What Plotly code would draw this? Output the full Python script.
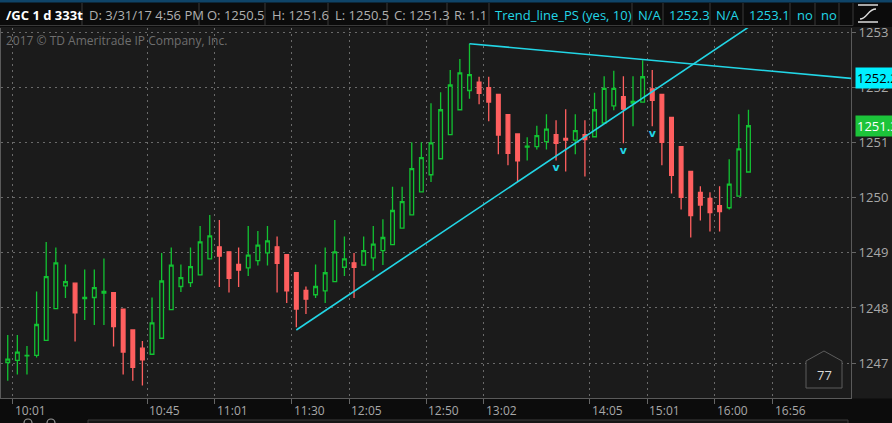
import plotly.graph_objects as go

# ---------------- data ----------------
opens = [1247.01, 1247.05, 1247.13, 1247.14, 1247.41, 1247.99, 1248.40, 1248.45, 1248.17, 1248.19,
         1248.27, 1248.28, 1247.98, 1247.60, 1247.27, 1247.16, 1247.45, 1247.97, 1248.39, 1248.46,
         1248.60, 1248.89, 1249.11, 1249.02, 1248.79, 1248.73, 1248.86, 1249.00, 1249.11, 1248.97,
         1248.64, 1248.32, 1248.24, 1248.31, 1248.48, 1248.74, 1248.82, 1248.78, 1248.91, 1249.04,
         1249.15, 1249.45, 1249.69, 1250.11, 1250.42, 1250.71, 1251.15, 1251.60, 1251.95, 1252.10,
         1252.00, 1251.88, 1251.51, 1251.16, 1250.92, 1250.93, 1251.02, 1251.15, 1251.08, 1251.05,
         1251.15, 1251.11, 1251.36, 1251.67, 1251.84, 1251.72, 1251.74, 1251.98, 1251.88, 1251.46,
         1250.93, 1250.48, 1250.10, 1249.99, 1249.86, 1249.82, 1250.03, 1250.47]
highs = [1247.51, 1247.51, 1247.31, 1248.30, 1249.20, 1249.10, 1248.79, 1248.45, 1248.70, 1248.70,
         1248.90, 1248.28, 1247.98, 1247.60, 1247.40, 1248.19, 1249.00, 1249.10, 1248.79, 1249.10,
         1249.49, 1249.69, 1249.60, 1249.02, 1249.10, 1249.49, 1249.40, 1249.49, 1249.30, 1248.97,
         1248.64, 1248.39, 1248.79, 1249.10, 1249.60, 1249.30, 1249.00, 1249.30, 1249.49, 1249.61,
         1250.20, 1250.20, 1251.01, 1251.01, 1251.72, 1251.92, 1252.32, 1252.52, 1252.80, 1252.20,
         1252.20, 1251.88, 1251.51, 1251.16, 1251.10, 1251.31, 1251.52, 1251.41, 1251.61, 1251.52,
         1251.41, 1251.91, 1252.21, 1252.31, 1252.21, 1252.21, 1252.50, 1252.32, 1251.88, 1251.46,
         1250.93, 1250.48, 1250.21, 1250.10, 1250.21, 1250.70, 1251.52, 1251.60]
lows = [1246.68, 1246.79, 1246.79, 1247.10, 1247.41, 1247.99, 1248.18, 1247.39, 1247.78, 1247.69,
        1247.69, 1247.30, 1246.79, 1246.68, 1246.59, 1247.16, 1247.45, 1247.97, 1248.29, 1248.38,
        1248.60, 1248.89, 1248.38, 1248.28, 1248.38, 1248.58, 1248.77, 1248.77, 1248.28, 1248.09,
        1247.65, 1247.89, 1248.18, 1248.09, 1248.48, 1248.58, 1248.18, 1248.78, 1248.68, 1248.78,
        1249.15, 1249.45, 1249.69, 1250.11, 1250.29, 1250.71, 1251.15, 1251.60, 1251.80, 1251.70,
        1251.39, 1250.79, 1250.59, 1250.29, 1250.68, 1250.88, 1250.88, 1250.68, 1250.48, 1250.79,
        1250.39, 1251.11, 1251.36, 1251.59, 1250.99, 1251.30, 1251.74, 1251.30, 1250.59, 1250.08,
        1249.79, 1249.28, 1249.59, 1249.39, 1249.39, 1249.79, 1250.03, 1250.47]
closes = [1247.07, 1247.20, 1247.14, 1247.70, 1248.57, 1248.82, 1248.48, 1247.91, 1248.19, 1248.37,
          1248.30, 1247.66, 1247.20, 1246.92, 1247.06, 1247.73, 1248.49, 1248.78, 1248.55, 1248.75,
          1249.20, 1249.31, 1248.94, 1248.54, 1248.69, 1248.96, 1249.14, 1249.22, 1248.81, 1248.31,
          1247.98, 1248.16, 1248.39, 1248.64, 1249.02, 1248.89, 1248.74, 1249.04, 1249.16, 1249.28,
          1249.77, 1249.93, 1250.53, 1250.73, 1251.00, 1251.60, 1252.05, 1252.27, 1252.24, 1251.90,
          1251.74, 1251.14, 1250.81, 1250.67, 1250.94, 1251.13, 1251.25, 1250.99, 1251.05, 1251.22,
          1251.06, 1251.60, 1251.99, 1251.99, 1251.61, 1251.75, 1252.20, 1251.77, 1251.01, 1250.41,
          1250.01, 1249.68, 1249.87, 1249.73, 1249.75, 1250.25, 1250.89, 1251.31]

time_labels = ["10:01", "10:45", "11:01", "11:30", "12:05", "12:50", "13:02", "14:05", "15:01", "16:00", "16:56"]
time_bars = [1, 15, 22, 30, 36, 44, 50, 61, 67, 74, 80]

price_ticks = [1247, 1248, 1249, 1250, 1251, 1252, 1253]

trend1_bars = [30, 77]
trend1_vals = [1247.60, 1253.10]
trend2_bars = [48, 77]
trend2_vals = [1252.80, 1252.34]

signal_bars = [57, 64, 67]
signal_vals = [1250.53, 1250.85, 1251.15]

header_texts = ["/GC 1 d 333t", "D: 3/31/17 4:56 PM", "O: 1250.5", "H: 1251.6", "L: 1250.5",
                "C: 1251.3", "R: 1.1", "Trend_line_PS (yes, 10)", "N/A", "1252.3", "N/A", "1253.1", "no", "no"]

# ---------------- geometry helpers ----------------
W, H = 892, 423
PL, PR, PT, PB = 1, 851, 28, 398
X_MIN, X_MAX = -0.70, 87.66
Y_MIN, Y_MAX = 1246.365, 1253.085


def px(x):
    return (x - PL) / (PR - PL)


def py(y):
    return (PB - y) / (PB - PT)


BG = "#1b1b1b"
GREEN = "#12c232"
RED = "#ff5f5f"
CYAN = "#22d6e6"
GRID = "#6a6a6a"

bars = list(range(len(opens)))

fig = go.Figure()
fig.add_trace(go.Candlestick(
    x=bars, open=opens, high=highs, low=lows, close=closes,
    increasing=dict(line=dict(color=GREEN, width=1.3), fillcolor=BG),
    decreasing=dict(line=dict(color=RED, width=1.3), fillcolor=RED),
    whiskerwidth=0, hoverinfo="skip", showlegend=False,
))


def extend(bx, vals, x_end):
    slope = (vals[1] - vals[0]) / (bx[1] - bx[0])
    return [bx[0], x_end], [vals[0], vals[0] + slope * (x_end - bx[0])]


t1x, t1y = extend(trend1_bars, trend1_vals, 80)
t2x, t2y = extend(trend2_bars, trend2_vals, X_MAX)
for tx, ty in ((t1x, t1y), (t2x, t2y)):
    fig.add_trace(go.Scatter(x=tx, y=ty, mode="lines", line=dict(color=CYAN, width=1.6),
                             hoverinfo="skip", showlegend=False))

fig.add_trace(go.Scatter(x=signal_bars, y=signal_vals, mode="text", text=["v"] * len(signal_bars),
                         textfont=dict(color=CYAN, size=11, family="DejaVu Sans", weight="bold"),
                         hoverinfo="skip", showlegend=False))

shapes = []
annotations = []

# header
shapes.append(dict(type="rect", xref="paper", yref="paper", x0=px(0), x1=px(W), y0=py(27), y1=py(0),
                   fillcolor="#0b0b0b", line=dict(width=0), layer="below"))
shapes.append(dict(type="rect", xref="paper", yref="paper", x0=px(0), x1=px(W), y0=py(2.5), y1=py(0),
                   fillcolor="#0f4468", line=dict(width=0), layer="below"))
for bx in [82, 199, 265, 328, 387, 447, 489, 632, 663, 710, 743, 790, 815, 839, 853]:
    shapes.append(dict(type="line", xref="paper", yref="paper", x0=px(bx), x1=px(bx), y0=py(25.5), y1=py(3),
                       line=dict(color="#3a3a3a", width=1)))
shapes.append(dict(type="line", xref="paper", yref="paper", x0=px(0), x1=px(853), y0=py(25.5), y1=py(25.5),
                   line=dict(color="#3a3a3a", width=1)))
# icon top right
shapes.append(dict(type="line", xref="paper", yref="paper", x0=px(858), x1=px(878), y0=py(5), y1=py(5),
                   line=dict(color="#dddddd", width=1.5)))
shapes.append(dict(type="line", xref="paper", yref="paper", x0=px(858), x1=px(878), y0=py(22), y1=py(22),
                   line=dict(color="#dddddd", width=1.5)))
shapes.append(dict(type="path", xref="paper", yref="paper",
                   path="M %f,%f C %f,%f %f,%f %f,%f" % (px(860), py(19), px(867), py(19), px(868), py(9), px(876), py(9)),
                   line=dict(color="#dddddd", width=1.3)))

hx = [4, 87, 205, 270, 333, 392, 452, 493, 636, 667, 714, 747, 795, 819]
hcolors = ["#ffffff"] + ["#b0b0b0"] * 6 + [CYAN] * 5 + [CYAN, CYAN]
for i, (t, x) in enumerate(zip(header_texts, hx)):
    annotations.append(dict(xref="paper", yref="paper", x=px(x), y=py(14.5), text=("<b>%s</b>" % t) if i == 0 else t,
                            showarrow=False, xanchor="left", yanchor="middle",
                            font=dict(family="Open Sans", size=13, color=hcolors[i])))

# watermark
annotations.append(dict(xref="paper", yref="paper", x=px(4), y=py(41), text="2017 © TD Ameritrade IP Company, Inc.",
                        showarrow=False, xanchor="left", yanchor="middle",
                        font=dict(family="Open Sans", size=12, color="#6e6e6e")))

# bottom area
shapes.append(dict(type="rect", xref="paper", yref="paper", x0=px(0), x1=px(W), y0=py(H), y1=py(PB + 0.5),
                   fillcolor="#0c0c0c", line=dict(width=0), layer="below"))
shapes.append(dict(type="rect", xref="paper", yref="paper", x0=px(88), x1=px(848), y0=py(424), y1=py(420),
                   fillcolor="#161616", line=dict(color="#3a3a3a", width=1), layer="below"))
for cx in [28, 51]:
    shapes.append(dict(type="circle", xref="paper", yref="paper", x0=px(cx - 4), x1=px(cx + 4), y0=py(427), y1=py(419),
                       line=dict(color="#9a9a9a", width=1.2)))

# x tick labels
tick_pos = [b - 0.5 for b in time_bars]
for t, xp in zip(time_labels, tick_pos):
    annotations.append(dict(xref="x", yref="paper", x=xp, y=py(410.5), text=t, showarrow=False,
                            xanchor="left", yanchor="middle", xshift=0,
                            font=dict(family="Open Sans", size=12, color="#a8a8a8")))

# "77" box
shapes.append(dict(type="path", xref="paper", yref="paper",
                   path="M %f,%f L %f,%f L %f,%f L %f,%f L %f,%f Z" % (
                       px(806), py(361), px(824), py(351), px(842), py(361), px(842), py(388), px(806), py(388)),
                   line=dict(color="#5c5c5c", width=1), fillcolor=BG))
annotations.append(dict(xref="paper", yref="paper", x=px(824), y=py(375), text="77", showarrow=False,
                        xanchor="center", yanchor="middle", font=dict(family="Open Sans", size=13, color="#d8d8d8")))

# right price flags
annotations.append(dict(xref="paper", yref="y", x=px(855), y=t2y[-1], text="%.1f" % t2y[-1], showarrow=False,
                        xanchor="left", yanchor="middle", bgcolor="#00f0ff", borderpad=1,
                        font=dict(family="Open Sans", size=13, color="#000000")))
annotations.append(dict(xref="paper", yref="y", x=px(855), y=closes[-1], text="%.1f" % closes[-1], showarrow=False,
                        xanchor="left", yanchor="middle", bgcolor="#1cc43a", borderpad=1,
                        font=dict(family="Open Sans", size=13, color="#ffffff")))

fig.update_layout(
    width=W, height=H,
    margin=dict(l=PL, r=W - PR, t=PT, b=H - PB, autoexpand=False),
    paper_bgcolor=BG, plot_bgcolor=BG,
    boxgap=0.45,
    shapes=shapes, annotations=annotations,
    xaxis=dict(range=[X_MIN, X_MAX], rangeslider=dict(visible=False), tickvals=tick_pos,
               showticklabels=False, ticks="outside", ticklen=5, tickcolor="#666666",
               showgrid=True, gridcolor=GRID, gridwidth=1, griddash="1.5px,4.5px",
               showline=True, linecolor="#5a5a5a", zeroline=False, fixedrange=True),
    yaxis=dict(range=[Y_MIN, Y_MAX], side="right", tickvals=price_ticks, ticktext=[str(p) for p in price_ticks],
               ticks="outside", ticklen=4, tickcolor="#666666",
               tickfont=dict(family="Open Sans", size=13, color="#a8a8a8"),
               showgrid=True, gridcolor=GRID, gridwidth=1, griddash="1.5px,4.5px",
               showline=True, linecolor="#5a5a5a", mirror=True, zeroline=False, fixedrange=True),
    hovermode=False,
)

fig.write_html("out.html", config={"displayModeBar": False},
               post_script="document.body.style.margin='0';document.body.style.padding='0';"
                           "document.body.style.background='#1b1b1b';")
